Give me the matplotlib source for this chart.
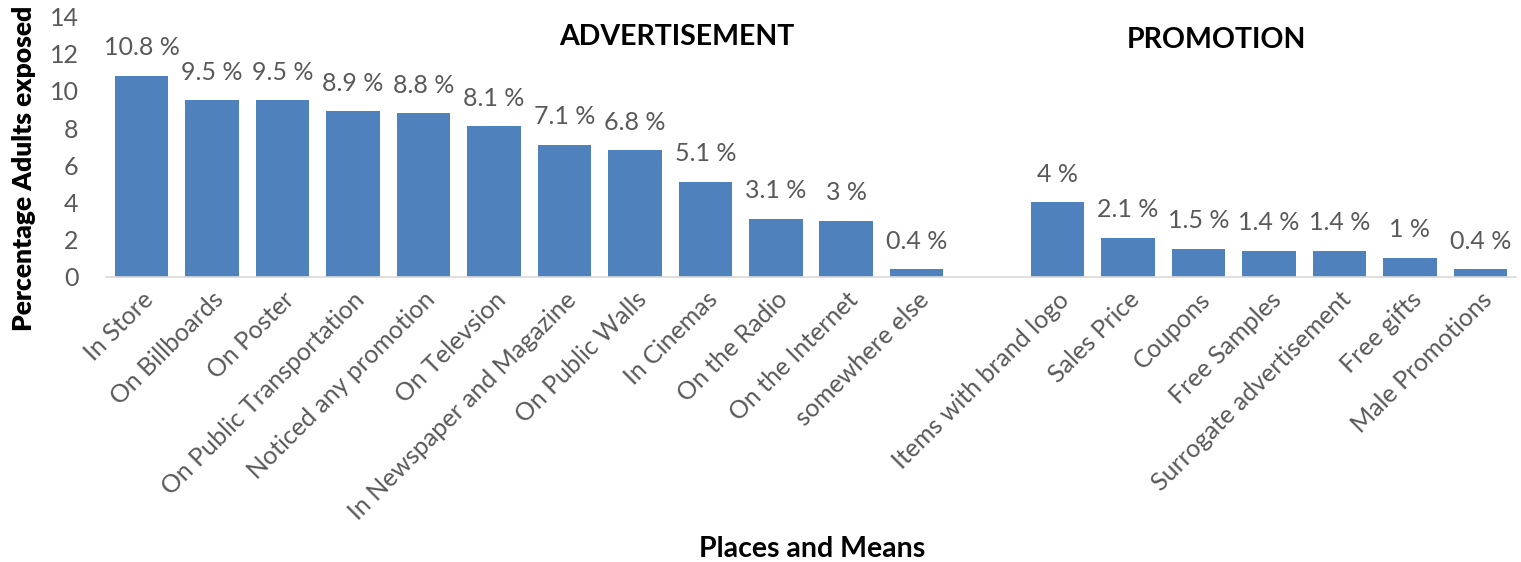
import matplotlib.pyplot as plt

plt.rcParams['font.family'] = ['Lato', 'DejaVu Sans']

ad_labels = ['In Store', 'On Billboards', 'On Poster', 'On Public Transportation',
             'Noticed any promotion', 'On Televsion', 'In Newspaper and Magazine',
             'On Public Walls', 'In Cinemas', 'On the Radio', 'On the Internet',
             'somewhere else']
ad_values = [10.8, 9.5, 9.5, 8.9, 8.8, 8.1, 7.1, 6.8, 5.1, 3.1, 3, 0.4]

promo_labels = ['Items with brand logo', 'Sales Price', 'Coupons', 'Free Samples',
                'Surrogate advertisement', 'Free gifts', 'Male Promotions']
promo_values = [4, 2.1, 1.5, 1.4, 1.4, 1, 0.4]

bar_color = '#4F81BD'
text_color = '#595959'

# one empty slot between the two groups
labels = ad_labels + [''] + promo_labels
values = ad_values + [None] + promo_values
xs = [i for i, v in enumerate(values) if v is not None]
vals = [v for v in values if v is not None]

fig = plt.figure(figsize=(15.21, 5.62), dpi=100)
ax = fig.add_axes([0.0699, 0.5077, 0.9266, 0.4626])

ax.bar(xs, vals, width=0.76, color=bar_color, zorder=2)
for x, v in zip(xs, vals):
    ax.annotate(f'{v:g} %', (x, v), xytext=(0, 12), textcoords='offset points',
                ha='center', va='bottom', fontsize=18, color=text_color)

ax.set_xlim(-0.5, len(labels) - 0.5)
ax.set_ylim(0, 14)
ax.set_yticks(range(0, 15, 2))
ax.set_xticks(xs)
ax.set_xticklabels([labels[i] for i in xs], rotation=45, ha='right',
                   rotation_mode='anchor', fontsize=18, color=text_color)
ax.tick_params(axis='y', labelsize=18, labelcolor=text_color, length=0, pad=20)
ax.tick_params(axis='x', length=0, pad=8)

for side in ['top', 'right', 'left']:
    ax.spines[side].set_visible(False)
ax.spines['bottom'].set_color('#D9D9D9')
ax.spines['bottom'].set_linewidth(1.2)

ax.text(7.6, 12.9, 'ADVERTISEMENT', ha='center', va='center', fontsize=20.5,
        fontweight='bold', color='black')
ax.text(15.25, 12.75, 'PROMOTION', ha='center', va='center', fontsize=20.5,
        fontweight='bold', color='black')

fig.text(0.0155, 0.70, 'Percentage Adults exposed', rotation=90, ha='center',
         va='center', fontsize=19, fontweight='heavy')
fig.text(0.534, 0.023, 'Places and Means', ha='center', va='center',
         fontsize=20.5, fontweight='bold')

fig.savefig('out.png', dpi=100)
